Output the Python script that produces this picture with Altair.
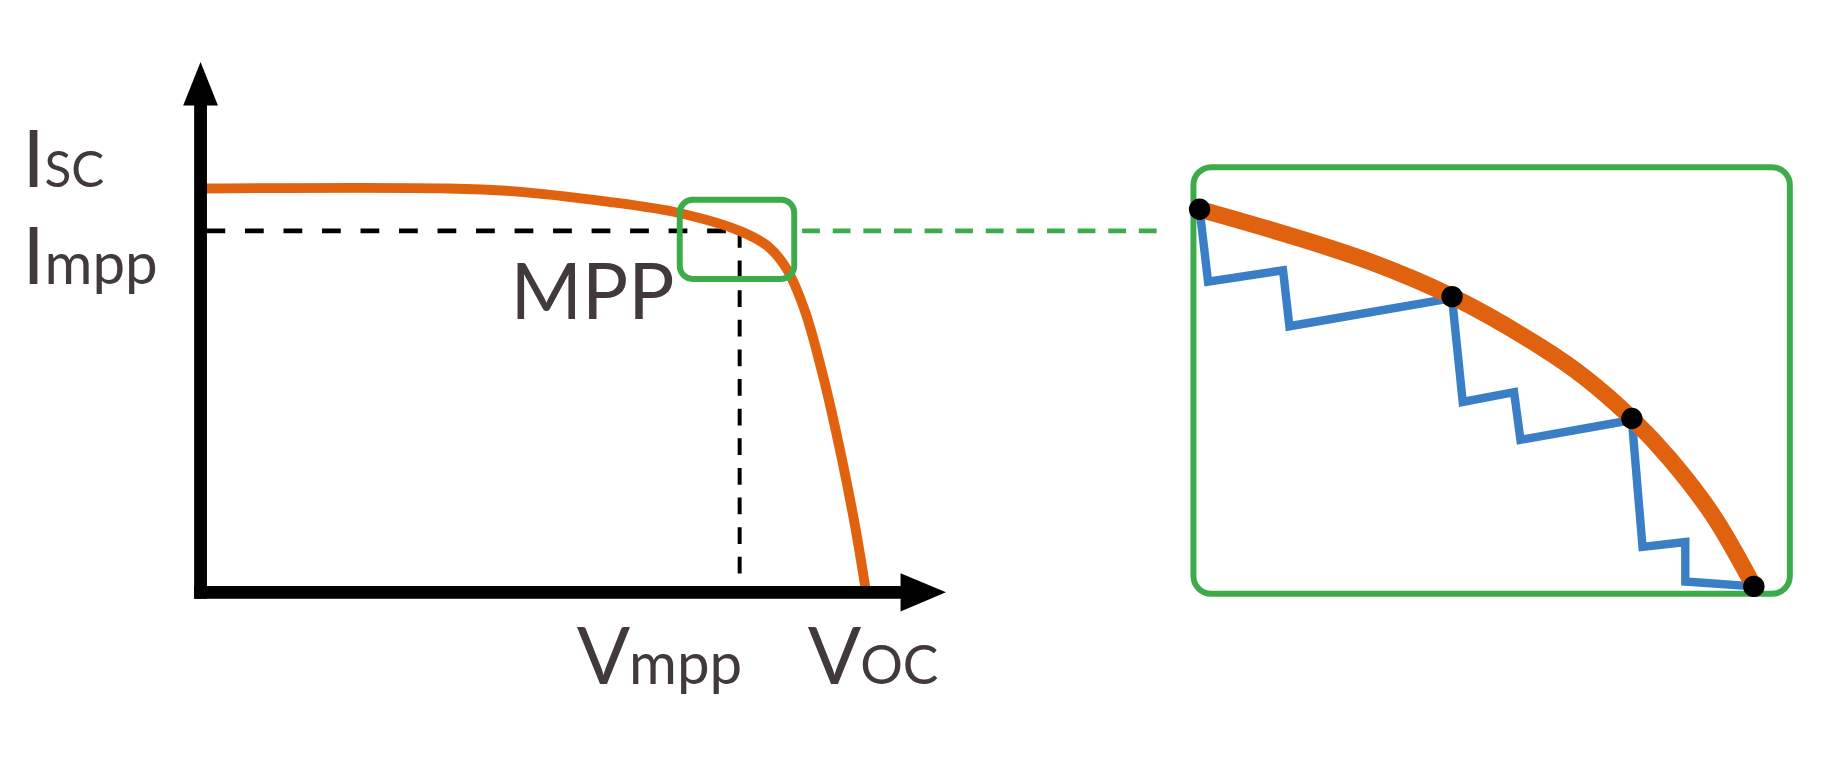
import altair as alt
import pandas as pd

# ---------------- data (normalised: Voc = 1, Isc = 1) ----------------
curve_v = [0.000, 0.372, 0.472, 0.608, 0.717, 0.810, 0.853, 0.881, 0.908, 0.935, 0.963, 0.985, 1.000]
curve_i = [1.000, 1.000, 0.993, 0.968, 0.940, 0.895, 0.856, 0.800, 0.697, 0.538, 0.335, 0.150, 0.000]

ISC, IMPP = 1.0, 0.895
VMPP, VOC = 0.810, 1.0
V_TIP, I_TIP = 1.12, 1.313           # ends of the axis arrows
mpp_box_v = [0.720, 0.892]
mpp_box_i = [0.776, 0.972]

# zoom window (fraction of window: u across, w up)
zoom_u = [0.0103, 0.1536, 0.2972, 0.4336, 0.5843, 0.6560, 0.7351, 0.7995, 0.8714, 0.9396]
zoom_w = [0.9016, 0.8435, 0.7780, 0.6968, 0.5773, 0.5076, 0.4111, 0.3148, 0.1833, 0.0174]

track_u = [0.0103, 0.0245, 0.1502, 0.1609, 0.4336, 0.4515, 0.5376, 0.5483, 0.7351, 0.7530, 0.8247, 0.8247, 0.9396]
track_w = [0.9016, 0.7317, 0.7586, 0.6273, 0.6931, 0.4498, 0.4729, 0.3611, 0.4074, 0.1100, 0.1215, 0.0289, 0.0174]

dot_u = [0.0103, 0.4336, 0.7351, 0.9396]
dot_w = [0.9016, 0.6968, 0.4111, 0.0174]

# ---------------- layout / style ----------------
H = 752
LW, RW = 1172, 638
PX_V, PX_I = 674.0, 409.0       # pixels per unit
OX, OY = 195.0, 587.0           # origin inside the left panel
WIN_X, WIN_Y, WIN_W, WIN_H = 5.5, 156.5, 604.0, 432.0

XD = [-OX / PX_V, (LW - OX) / PX_V]
YD = [-(H - OY) / PX_I, OY / PX_I]
UD = [-WIN_X / WIN_W, (RW - WIN_X) / WIN_W]
WD = [-(H - WIN_Y - WIN_H) / WIN_H, (WIN_Y + WIN_H) / WIN_H]

ORANGE = "#e0620f"
GREEN = "#3dab4a"
BLUE = "#3a7ec6"
TXT = "#423a3a"
FONT = "Lato"
WEIGHT = 400

def X(f="v"):
    return alt.X(f"{f}:Q", scale=alt.Scale(domain=XD, nice=False, zero=False), axis=None)

def Y(f="i"):
    return alt.Y(f"{f}:Q", scale=alt.Scale(domain=YD, nice=False, zero=False), axis=None)

def U(f="u"):
    return alt.X(f"{f}:Q", scale=alt.Scale(domain=UD, nice=False, zero=False), axis=None)

def W(f="w"):
    return alt.Y(f"{f}:Q", scale=alt.Scale(domain=WD, nice=False, zero=False), axis=None)

# ---------------- left panel ----------------
curve_df = pd.DataFrame({"v": curve_v, "i": curve_i})

xaxis_df = pd.DataFrame({"v": [0.0], "v2": [V_TIP - 40 / PX_V], "i": [0.0]})
yaxis_df = pd.DataFrame({"v": [0.0], "i": [0.0], "i2": [I_TIP - 40 / PX_I]})
xarrow_df = pd.DataFrame({"v": [V_TIP], "i": [0.0]})
yarrow_df = pd.DataFrame({"v": [0.0], "i": [I_TIP]})

x_axis = alt.Chart(xaxis_df).mark_rule(color="black", strokeWidth=13, strokeCap="square").encode(
    x=X(), x2="v2:Q", y=Y())
y_axis = alt.Chart(yaxis_df).mark_rule(color="black", strokeWidth=13, strokeCap="square").encode(
    x=X(), y=Y(), y2="i2:Q")
x_head = alt.Chart(xarrow_df).mark_point(
    shape="M-2,-0.84L0,0L-2,0.84Z", size=2116, filled=True, color="black", opacity=1, strokeWidth=0
).encode(x=X(), y=Y())
y_head = alt.Chart(yarrow_df).mark_point(
    shape="M-0.8,2L0,0L0.8,2Z", size=1936, filled=True, color="black", opacity=1, strokeWidth=0
).encode(x=X(), y=Y())

hdash = alt.Chart(pd.DataFrame({"v": [0.0], "v2": [VMPP], "i": [IMPP]})).mark_rule(
    color="black", strokeWidth=5, strokeDash=[19, 20], strokeDashOffset=-6).encode(x=X(), x2="v2:Q", y=Y())
vdash = alt.Chart(pd.DataFrame({"v": [VMPP], "i": [IMPP], "i2": [0.0]})).mark_rule(
    color="black", strokeWidth=4, strokeDash=[17, 13]).encode(x=X(), y=Y(), y2="i2:Q")

iv_curve = alt.Chart(curve_df).mark_line(color=ORANGE, strokeWidth=10, interpolate="catmull-rom").encode(
    x=X(), y=Y())

mpp_box = alt.Chart(pd.DataFrame({"v": [mpp_box_v[0]], "v2": [mpp_box_v[1]],
                                  "i": [mpp_box_i[0]], "i2": [mpp_box_i[1]]})).mark_rect(
    fill="white", fillOpacity=0, stroke=GREEN, strokeWidth=6, cornerRadius=13).encode(
    x=X(), x2="v2:Q", y=Y(), y2="i2:Q")

connector = alt.Chart(pd.DataFrame({"v": [mpp_box_v[1] + 8 / PX_V], "v2": [XD[1] - 5 / PX_V],
                                    "i": [IMPP]})).mark_rule(
    color=GREEN, strokeWidth=5, strokeDash=[18, 13]).encode(x=X(), x2="v2:Q", y=Y())


def label(text, v, i, dx, dy, size, align="left"):
    return alt.Chart(pd.DataFrame({"v": [v], "i": [i], "t": [text]})).mark_text(
        align=align, baseline="alphabetic", dx=dx, dy=dy, fontSize=size, font=FONT,
        fontWeight=WEIGHT, color=TXT
    ).encode(x=X(), y=Y(), text="t:N")

labels = [
    label("I", 0.0, ISC, -158, -2, 80, "right"),
    label("SC", 0.0, ISC, -158, -2, 50),
    label("I", 0.0, IMPP, -158, 54, 80, "right"),
    label("mpp", 0.0, IMPP, -158, 54, 59),
    label("MPP", VMPP, IMPP, -232, 89, 78),
    label("V", VMPP, 0.0, -165, 93, 80),
    label("mpp", VMPP, 0.0, -112, 93, 59),
    label("V", VOC, 0.0, -59, 93, 80),
    label("OC", VOC, 0.0, -6, 93, 54),
]

left = alt.layer(hdash, vdash, iv_curve, mpp_box, connector, x_axis, y_axis, x_head, y_head,
                 *labels).properties(width=LW, height=H)

# ---------------- right panel (zoomed view) ----------------
window = alt.Chart(pd.DataFrame({"u": [0.0], "u2": [1.0], "w": [0.0], "w2": [1.0]})).mark_rect(
    fill="white", fillOpacity=0, stroke=GREEN, strokeWidth=6, cornerRadius=18).encode(
    x=U(), x2="u2:Q", y=W(), y2="w2:Q")

track = alt.Chart(pd.DataFrame({"u": track_u, "w": track_w, "k": list(range(len(track_u)))})).mark_line(
    color=BLUE, strokeWidth=8.5, strokeJoin="miter").encode(x=U(), y=W(), order="k:Q")

zoom_curve = alt.Chart(pd.DataFrame({"u": zoom_u, "w": zoom_w})).mark_line(
    color=ORANGE, strokeWidth=17, interpolate="catmull-rom").encode(x=U(), y=W())

dots = alt.Chart(pd.DataFrame({"u": dot_u, "w": dot_w})).mark_circle(
    color="black", size=470, opacity=1).encode(x=U(), y=W())

right = alt.layer(window, track, zoom_curve, dots).properties(width=RW, height=H)

chart = alt.hconcat(left, right, spacing=0).properties(
    padding=0, background="white"
).configure_view(stroke=None)

chart.save("out.html", embed_options={"renderer": "svg", "actions": False})
